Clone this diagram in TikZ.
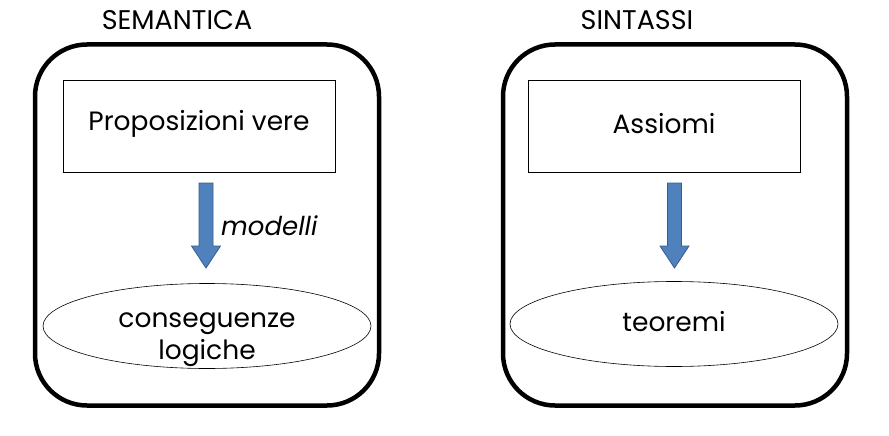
\documentclass[tikz,border=0pt]{standalone}
\usepackage{fontspec}
\setmainfont{Poppins}
\usetikzlibrary{shapes.geometric,calc}
\definecolor{arrowfill}{HTML}{4F81BD}
\definecolor{arrowline}{HTML}{385D8A}
\tikzset{
  x=1pt, y=1pt,
  title/.style={font=\fontsize{27}{31}\selectfont, inner sep=0pt},
  bigbox/.style={draw, line width=4.5pt, rounded corners=52pt, minimum width=344pt, minimum height=361pt, inner sep=0pt},
  propbox/.style={draw, line width=0.6pt, minimum width=272pt, minimum height=92pt, inner sep=0pt},
  ell/.style={draw, ellipse, line width=0.6pt, minimum width=328pt, minimum height=85pt, inner sep=0pt},
  body/.style={font=\fontsize{26.5}{32}\selectfont, align=center, inner sep=0pt},
  barrow/.style={fill=arrowfill, draw=arrowline, line width=0.8pt, line join=miter},
}
\begin{document}
\begin{tikzpicture}
\useasboundingbox (0,0) rectangle (889,-436);
% left panel
\node[title] (t1) at (177,-20) {SEMANTICA};
\node[bigbox] (L) at (207,-225) {};
\node[propbox] (P) at (199,-126) {};
\node[body] (Pt) at (199,-124) {Proposizioni vere};
\node[ell] (E1) at (207,-326) {};
\node[body] (C1) at (207,-340) {conseguenze\\logiche};
\coordinate (a1) at (206,-183);
\draw[barrow] ($(a1)+(-7,0)$) -- ++(14,0) -- ++(0,-63) -- ++(7.5,0) -- ($(a1)+(0,-85)$) -- ($(a1)+(-14.5,-63)$) -- ++(7.5,0) -- cycle;
\node[body, font=\fontsize{26}{30}\selectfont\itshape, anchor=west] (M) at (221,-226) {modelli};
% right panel
\node[title] (t2) at (637,-20) {SINTASSI};
\node[bigbox] (R) at (675,-225) {};
\node[propbox] (A) at (664,-126) {};
\node[body] (At) at (664,-124) {Assiomi};
\node[ell] (E2) at (674,-324) {};
\node[body] (C2) at (674,-322) {teoremi};
\coordinate (a2) at (674.5,-183);
\draw[barrow] ($(a2)+(-7,0)$) -- ++(14,0) -- ++(0,-63) -- ++(7.5,0) -- ($(a2)+(0,-85)$) -- ($(a2)+(-14.5,-63)$) -- ++(7.5,0) -- cycle;
\end{tikzpicture}
\end{document}
